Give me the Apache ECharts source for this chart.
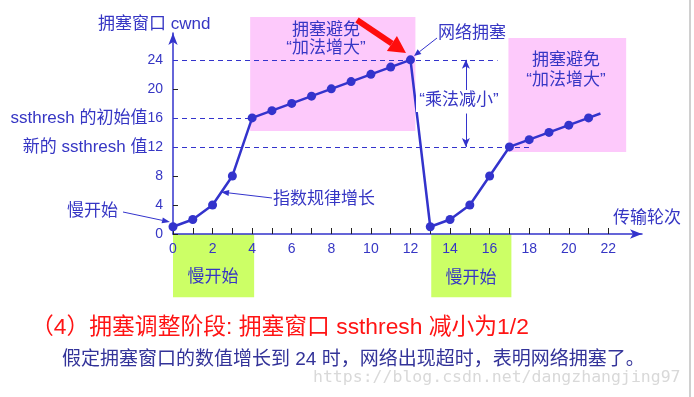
<!DOCTYPE html>
<html>
<head>
<meta charset="utf-8">
<script src="https://cdn.jsdelivr.net/npm/echarts@6/dist/echarts.min.js"></script>
<style>
html, body { margin: 0; padding: 0; background: #fff; }
#main { width: 694px; height: 397px; }
</style>
</head>
<body>
<div id="main"></div>
<script>
// 传输轮次 -> 拥塞窗口 cwnd
var rounds = [0, 1, 2, 3, 4, 5, 6, 7, 8, 9, 10, 11, 12, 13, 14, 15, 16, 17, 18, 19, 20, 21];
var cwnd = [1, 2, 4, 8, 16, 17, 18, 19, 20, 21, 22, 23, 24, 1, 2, 4, 8, 12, 13, 14, 15, 16];
var tail = [21.6, 16.6]; // 线延伸到这里, 没有圆点

var xTicks = [0, 1, 2, 3, 4, 5, 6, 7, 8, 9, 10, 11, 12, 13, 14, 15, 16, 17, 18, 19, 20, 21, 22];
var xLabels = [0, 2, 4, 6, 8, 10, 12, 14, 16, 18, 20, 22];
var yLabels = [0, 4, 8, 12, 16, 20, 24];

var ssthreshInit = 16;
var ssthreshNew = 12;
var peak = 24;

var BLUE = '#3333cc';
var TXT = '#3636c4';
var PINK = '#fdc9fb';
var GREEN = '#ccff66';
var FONT = "'Liberation Sans', 'Noto Sans CJK SC', sans-serif";

var myChart = echarts.init(document.getElementById('main'));

// 小箭头: 线 + 三角
function arrow(x1, y1, x2, y2, color, w, hl, hw) {
  var a = Math.atan2(y2 - y1, x2 - x1);
  var c = Math.cos(a), s = Math.sin(a);
  var bx = x2 - hl * c, by = y2 - hl * s;
  return [
    { type: 'line', z: 10, shape: { x1: x1, y1: y1, x2: bx, y2: by }, style: { stroke: color, lineWidth: w } },
    { type: 'polygon', z: 10, shape: { points: [[x2, y2], [bx + hw * s, by - hw * c], [bx - hw * s, by + hw * c]] }, style: { fill: color } }
  ];
}

function txt(x, y, text, size, color, align) {
  return {
    type: 'text', x: x, y: y, z: 10,
    style: { text: text, font: size + 'px ' + FONT, fill: color, textAlign: align || 'left', textVerticalAlign: 'middle' }
  };
}

// 背景色块 (用坐标轴换算)
function box(x0, y0, x1, y1, color) {
  var p0 = myChart.convertToPixel({ gridIndex: 0 }, [x0, y0]);
  var p1 = myChart.convertToPixel({ gridIndex: 0 }, [x1, y1]);
  return {
    type: 'rect', z: 0,
    shape: { x: Math.min(p0[0], p1[0]), y: Math.min(p0[1], p1[1]), width: Math.abs(p1[0] - p0[0]), height: Math.abs(p1[1] - p0[1]) },
    style: { fill: color }
  };
}

var data = rounds.map(function (r, i) { return [r, cwnd[i]]; });
data.push({ value: tail, symbol: 'none' });

var dash = { type: [5, 4], color: BLUE, width: 1 };

var option = {
  animation: false,
  grid: { left: 173, right: 52, top: 33, bottom: 163 },
  xAxis: {
    type: 'value', min: 0, max: 23.7,
    splitLine: { show: false },
    axisLine: { lineStyle: { color: BLUE, width: 1.5 }, symbol: ['none', 'arrow'], symbolSize: [7, 12] },
    axisTick: { inside: true, length: 6, lineStyle: { color: '#222', width: 1 }, customValues: xTicks },
    axisLabel: { customValues: xLabels, color: TXT, fontSize: 14, fontFamily: FONT, margin: 8 }
  },
  yAxis: {
    type: 'value', min: 0, max: 27.7,
    splitLine: { show: false },
    axisLine: { lineStyle: { color: BLUE, width: 1.5 }, symbol: ['none', 'arrow'], symbolSize: [7, 12] },
    axisTick: { inside: true, length: 5, lineStyle: { color: '#222', width: 1 }, customValues: yLabels },
    axisLabel: {
      customValues: yLabels, margin: 10,
      formatter: function (v) {
        if (v === ssthreshInit) return '{t|ssthresh 的初始值}{n|' + v + '}';
        if (v === ssthreshNew) return '{t|新的 ssthresh 值}{n|' + v + '}';
        return '{n|' + v + '}';
      },
      rich: {
        t: { fontSize: 17, color: TXT, fontFamily: FONT },
        n: { fontSize: 14, color: TXT, fontFamily: FONT }
      }
    }
  },
  series: [{
    type: 'line',
    z: 3,
    data: data,
    clip: false,
    symbol: 'circle',
    symbolSize: 9,
    lineStyle: { color: BLUE, width: 2.5 },
    itemStyle: { color: BLUE },
    markLine: {
      silent: true,
      symbol: 'none',
      label: { show: false },
      lineStyle: dash,
      data: [
        [{ coord: [0, peak] }, { coord: [16.4, peak] }],
        [{ coord: [0, ssthreshInit] }, { coord: [4, ssthreshInit] }],
        [{ coord: [0, ssthreshNew] }, { coord: [18.0, ssthreshNew] }],
        [{ coord: [14.8, 19.8], symbol: 'none', lineStyle: { type: 'solid' } }, { coord: [14.8, peak], symbol: 'arrow', symbolSize: [6, 9] }],
        [{ coord: [14.8, 16.6], symbol: 'none', lineStyle: { type: 'solid' } }, { coord: [14.8, ssthreshNew], symbol: 'arrow', symbolSize: [6, 9] }]
      ]
    }
  }]
};

myChart.setOption(option);

var g = [];
g.push(box(3.9, 29.9, 12.25, 14.2, PINK));
g.push(box(16.95, 27.0, 22.9, 11.3, PINK));
g.push(box(0, 0, 4.1, -8.7, GREEN));
g.push(box(13.05, 0, 17.1, -8.7, GREEN));
g.push({ type: 'line', shape: { x1: 690, y1: 0, x2: 690, y2: 397 }, style: { stroke: '#d0d0d0', lineWidth: 2 } });
g.push(txt(98, 24, '拥塞窗口 cwnd', 17, TXT));
g.push(txt(326, 30, '拥塞避免', 17, TXT, 'center'));
g.push(txt(326, 48, '“加法增大”', 17, TXT, 'center'));
g.push(txt(438, 33, '网络拥塞', 17, TXT));
g.push({ type: 'rect', z: 9, shape: { x: 416, y: 90, width: 88, height: 22 }, style: { fill: '#fff' } });
g.push(txt(459, 100, '“乘法减小”', 17, TXT, 'center'));
g.push(txt(566, 60, '拥塞避免', 17, TXT, 'center'));
g.push(txt(566, 80, '“加法增大”', 17, TXT, 'center'));
g.push(txt(67, 211, '慢开始', 17, TXT));
g.push(txt(273, 199, '指数规律增长', 17, TXT));
g.push(txt(613, 218, '传输轮次', 17, TXT));
g.push(txt(213, 277, '慢开始', 17, TXT, 'center'));
g.push(txt(471, 278, '慢开始', 17, TXT, 'center'));
g.push(txt(31, 328, '（4）拥塞调整阶段: 拥塞窗口 ssthresh 减小为1/2', 22.8, '#ff1414'));
g.push(txt(62, 360, '假定拥塞窗口的数值增长到 24 时，网络出现超时，表明网络拥塞了。', 19, '#333399'));
g.push({
  type: 'text', x: 313, y: 378, z: 1,
  style: { text: 'https://blog.csdn.net/dangzhangjing97', font: "16.5px 'DejaVu Sans Mono', monospace", fill: '#d9d9d9', textVerticalAlign: 'middle' }
});

g = g.concat(arrow(123, 212, 170, 222, BLUE, 1, 8, 3));
g = g.concat(arrow(272, 198, 221, 192, BLUE, 1, 8, 3));
g = g.concat(arrow(437, 38, 414, 56, BLUE, 1, 7, 3));
g = g.concat(arrow(357, 20, 406, 53, '#ff0d0d', 6, 17, 9));

myChart.setOption({ graphic: { elements: g } });

window.onresize = function () {
  myChart.resize();
};
</script>
</body>
</html>
